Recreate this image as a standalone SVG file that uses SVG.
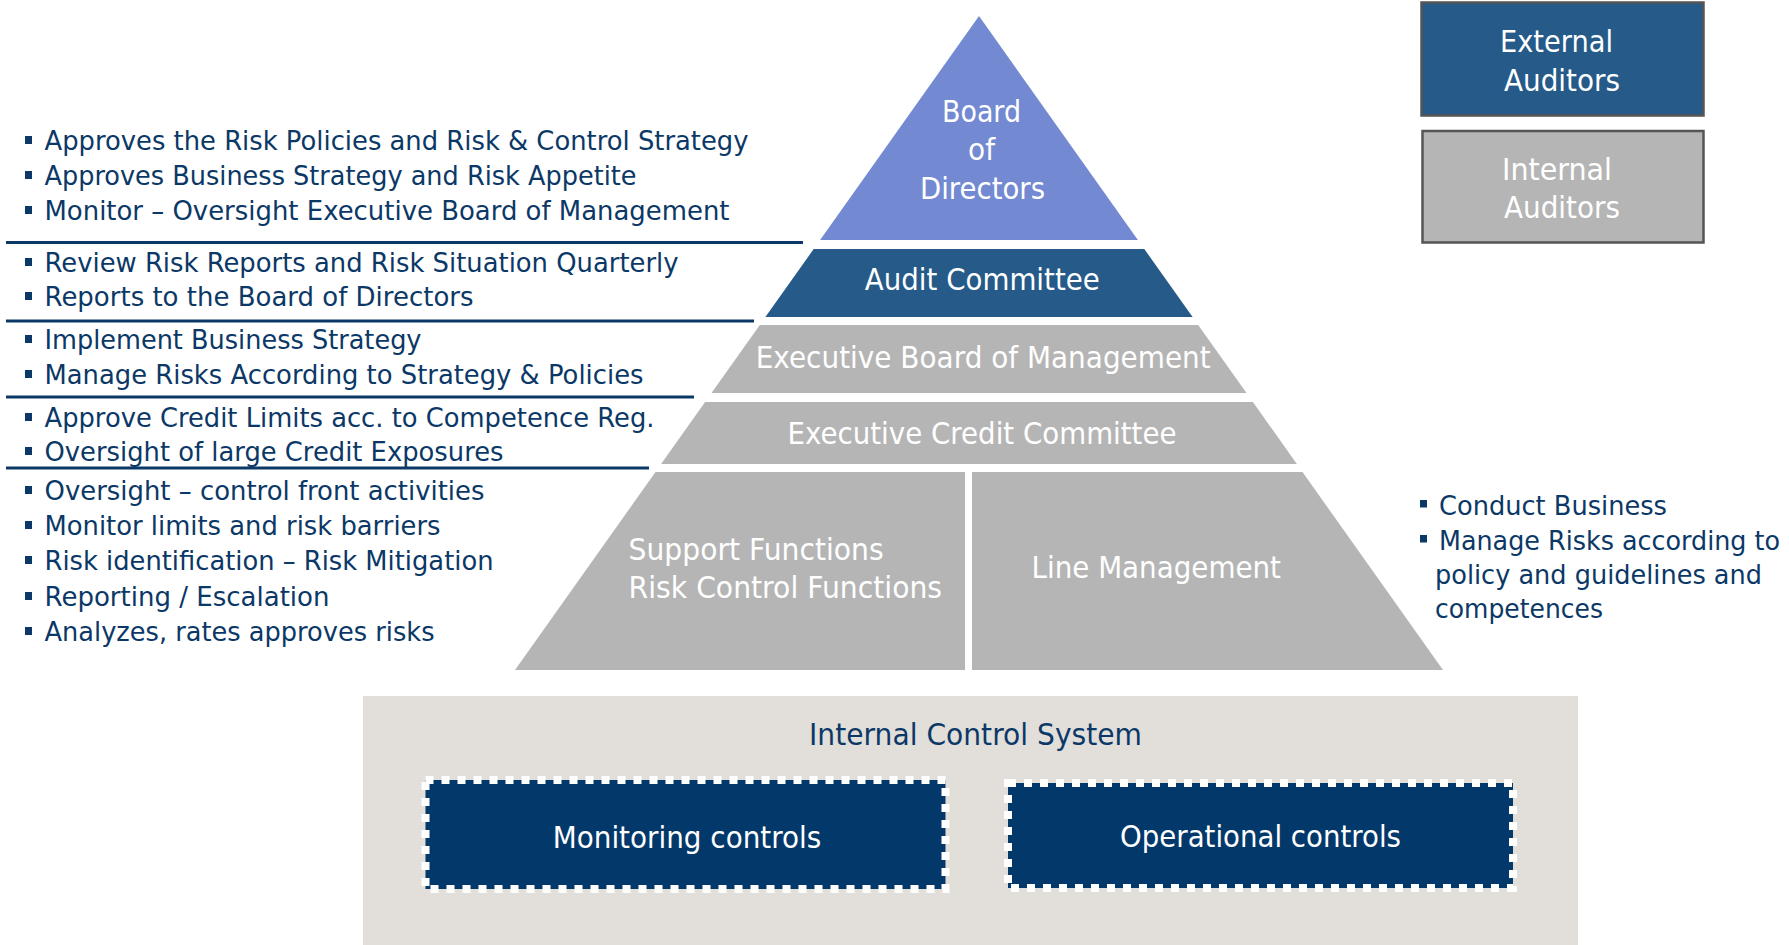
<svg xmlns="http://www.w3.org/2000/svg" width="1789" height="945" viewBox="0 0 1789 945">
<style>
text{font-family:"DejaVu Sans","Liberation Sans",sans-serif}
.lt{font-size:27px;fill:#0B3866}
.wt{font-size:31px;fill:#ffffff}
.ct{text-anchor:middle}
.bul{fill:#0B3866}
.sep{stroke:#0B3866;stroke-width:3;fill:none}
.grey{fill:#B5B5B5}
.ctl{fill:#02386A;stroke:#ffffff;stroke-width:8;stroke-dasharray:8 8}
</style>
<rect width="1789" height="945" fill="#ffffff"/>

<g id="connectors">
<line class="sep" x1="6" y1="242.5" x2="803" y2="242.5"/>
<line class="sep" x1="6" y1="321" x2="754" y2="321"/>
<line class="sep" x1="6" y1="397" x2="694" y2="397"/>
<line class="sep" x1="6" y1="468" x2="649" y2="468"/>
</g>

<g id="left-notes">
<rect class="bul" x="25" y="136" width="7" height="8"/>
<text class="lt" x="44.5" y="150" textLength="704" lengthAdjust="spacingAndGlyphs">Approves the Risk Policies and Risk &amp; Control Strategy</text>
<rect class="bul" x="25" y="171" width="7" height="8"/>
<text class="lt" x="44.5" y="185" textLength="592" lengthAdjust="spacingAndGlyphs">Approves Business Strategy and Risk Appetite</text>
<rect class="bul" x="25" y="206" width="7" height="8"/>
<text class="lt" x="44.5" y="220" textLength="685" lengthAdjust="spacingAndGlyphs">Monitor – Oversight Executive Board of Management</text>
<rect class="bul" x="25" y="258" width="7" height="8"/>
<text class="lt" x="44.5" y="272" textLength="634" lengthAdjust="spacingAndGlyphs">Review Risk Reports and Risk Situation Quarterly</text>
<rect class="bul" x="25" y="292" width="7" height="8"/>
<text class="lt" x="44.5" y="306" textLength="429" lengthAdjust="spacingAndGlyphs">Reports to the Board of Directors</text>
<rect class="bul" x="25" y="335" width="7" height="8"/>
<text class="lt" x="44.5" y="349" textLength="377" lengthAdjust="spacingAndGlyphs">Implement Business Strategy</text>
<rect class="bul" x="25" y="370" width="7" height="8"/>
<text class="lt" x="44.5" y="384" textLength="599" lengthAdjust="spacingAndGlyphs">Manage Risks According to Strategy &amp; Policies</text>
<rect class="bul" x="25" y="413" width="7" height="8"/>
<text class="lt" x="44.5" y="427" textLength="610" lengthAdjust="spacingAndGlyphs">Approve Credit Limits acc. to Competence Reg.</text>
<rect class="bul" x="25" y="447" width="7" height="8"/>
<text class="lt" x="44.5" y="461" textLength="459" lengthAdjust="spacingAndGlyphs">Oversight of large Credit Exposures</text>
<rect class="bul" x="25" y="486" width="7" height="8"/>
<text class="lt" x="44.5" y="500" textLength="440" lengthAdjust="spacingAndGlyphs">Oversight – control front activities</text>
<rect class="bul" x="25" y="521" width="7" height="8"/>
<text class="lt" x="44.5" y="535" textLength="396" lengthAdjust="spacingAndGlyphs">Monitor limits and risk barriers</text>
<rect class="bul" x="25" y="556" width="7" height="8"/>
<text class="lt" x="44.5" y="570" textLength="449" lengthAdjust="spacingAndGlyphs">Risk identification – Risk Mitigation</text>
<rect class="bul" x="25" y="592" width="7" height="8"/>
<text class="lt" x="44.5" y="606" textLength="285" lengthAdjust="spacingAndGlyphs">Reporting / Escalation</text>
<rect class="bul" x="25" y="627" width="7" height="8"/>
<text class="lt" x="44.5" y="641" textLength="390" lengthAdjust="spacingAndGlyphs">Analyzes, rates approves risks</text>
</g>

<g id="board-of-directors">
<polygon points="979,16 1137.9,240 820.1,240" fill="#7389D2"/>
<text class="wt ct" x="981.5" y="122" textLength="79" lengthAdjust="spacingAndGlyphs">Board</text>
<text class="wt ct" x="981.5" y="160" textLength="27" lengthAdjust="spacingAndGlyphs">of</text>
<text class="wt ct" x="982.5" y="199" textLength="125" lengthAdjust="spacingAndGlyphs">Directors</text>
</g>

<g id="audit-committee">
<polygon points="813.7,249 1144.3,249 1192.6,317 765.4,317" fill="#255A89"/>
<text class="wt ct" x="982.3" y="290" textLength="235" lengthAdjust="spacingAndGlyphs">Audit Committee</text>
</g>

<g id="executive-board">
<polygon class="grey" points="759.8,325 1198.2,325 1246.5,393 711.5,393"/>
<text class="wt ct" x="983.2" y="368" textLength="455" lengthAdjust="spacingAndGlyphs">Executive Board of Management</text>
</g>

<g id="executive-credit-committee">
<polygon class="grey" points="705.1,402 1252.9,402 1296.9,464 661.1,464"/>
<text class="wt ct" x="982" y="444" textLength="389" lengthAdjust="spacingAndGlyphs">Executive Credit Committee</text>
</g>

<g id="support-functions">
<polygon class="grey" points="655.5,472 965,472 965,670 515,670"/>
<text class="wt" x="628.6" y="560" textLength="255" lengthAdjust="spacingAndGlyphs">Support Functions</text>
<text class="wt" x="628.6" y="598" textLength="313.5" lengthAdjust="spacingAndGlyphs">Risk Control Functions</text>
</g>

<g id="line-management">
<polygon class="grey" points="972,472 1302.5,472 1443,670 972,670"/>
<text class="wt" x="1031.5" y="578" textLength="249.5" lengthAdjust="spacingAndGlyphs">Line Management</text>
</g>

<g id="external-auditors">
<rect x="1421.5" y="2.5" width="282" height="113" fill="#255A89" stroke="#555555" stroke-width="2.5"/>
<text class="wt" x="1500" y="52" textLength="113" lengthAdjust="spacingAndGlyphs">External</text>
<text class="wt" x="1504" y="91" textLength="116" lengthAdjust="spacingAndGlyphs">Auditors</text>
</g>

<g id="internal-auditors">
<rect x="1422.5" y="131" width="281" height="111.5" fill="#B5B5B5" stroke="#555555" stroke-width="2.5"/>
<text class="wt" x="1502" y="180" textLength="110" lengthAdjust="spacingAndGlyphs">Internal</text>
<text class="wt" x="1504" y="218" textLength="116" lengthAdjust="spacingAndGlyphs">Auditors</text>
</g>

<g id="right-notes">
<rect class="bul" x="1420" y="500" width="7" height="7.5"/>
<text class="lt" x="1439" y="515" textLength="228" lengthAdjust="spacingAndGlyphs">Conduct Business</text>
<rect class="bul" x="1420" y="535" width="7" height="7.5"/>
<text class="lt" x="1439" y="550" textLength="341" lengthAdjust="spacingAndGlyphs">Manage Risks according to</text>
<text class="lt" x="1435" y="583.5" textLength="327" lengthAdjust="spacingAndGlyphs">policy and guidelines and</text>
<text class="lt" x="1435" y="617.5" textLength="168" lengthAdjust="spacingAndGlyphs">competences</text>
</g>

<g id="internal-control-system">
<rect x="363" y="696" width="1215" height="249" fill="#E2DFDB"/>
<text class="ct" x="975.5" y="745" font-size="30" fill="#0B3866" textLength="333" lengthAdjust="spacingAndGlyphs">Internal Control System</text>
</g>

<g id="monitoring-controls">
<rect class="ctl" x="425.5" y="780" width="520" height="109"/>
<text class="wt ct" x="687" y="848" textLength="268.5" lengthAdjust="spacingAndGlyphs">Monitoring controls</text>
</g>

<g id="operational-controls">
<rect class="ctl" x="1008" y="783" width="505" height="105"/>
<text class="wt ct" x="1260.5" y="847" textLength="281" lengthAdjust="spacingAndGlyphs">Operational controls</text>
</g>
</svg>
